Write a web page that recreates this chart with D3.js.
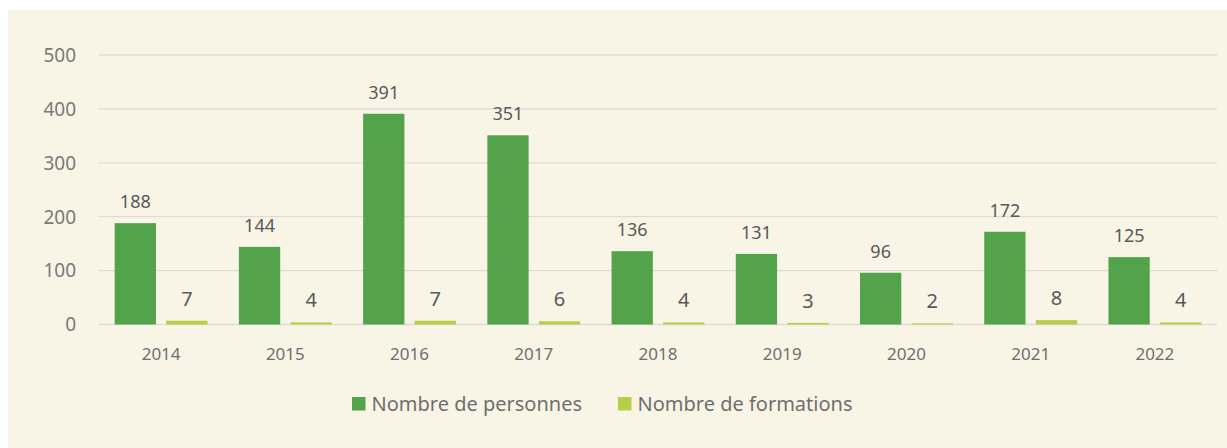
<!DOCTYPE html>
<html>
<head>
<meta charset="utf-8">
<script src="https://cdn.jsdelivr.net/npm/d3@7"></script>
<style>
  body { margin: 0; background: #ffffff; }
  svg { display: block; font-family: "Noto Sans", "Open Sans", sans-serif; }
</style>
</head>
<body>
<svg id="chart" width="1227" height="448"></svg>
<script>
// data
const years = ['2014', '2015', '2016', '2017', '2018', '2019', '2020', '2021', '2022'];
const personnes = [188, 144, 391, 351, 136, 131, 96, 172, 125];
const formations = [7, 4, 7, 6, 4, 3, 2, 8, 4];
const seriesNames = ['Nombre de personnes', 'Nombre de formations'];
const yTicks = [0, 100, 200, 300, 400, 500];

const colors = ['#52a34a', '#b5cf48'];

let svg = d3.select('#chart');

svg.append('rect')
    .attr('x', 8)
    .attr('y', 10)
    .attr('width', 1219)
    .attr('height', 438)
    .attr('fill', '#f8f5e6');

let x0 = d3.scaleBand()
           .domain(years)
           .range([99, 1217]);

let x1 = d3.scaleBand()
           .domain(seriesNames)
           .range([0, x0.bandwidth()])
           .paddingInner(0.2)
           .paddingOuter(0.304);

let y = d3.scaleLinear()
          .domain([0, 500])
          .range([324.5, 55]);

// gridlines
svg.append('g')
    .selectAll('line')
    .data(yTicks)
    .enter()
    .append('line')
    .attr('x1', 99)
    .attr('x2', 1217)
    .attr('y1', d => y(d))
    .attr('y2', d => y(d))
    .attr('stroke', '#dcdcd8')
    .attr('stroke-width', 1.3);

// y tick labels
svg.append('g')
    .selectAll('text')
    .data(yTicks)
    .enter()
    .append('text')
    .attr('x', 76)
    .attr('y', d => y(d))
    .attr('dy', '0.36em')
    .attr('text-anchor', 'end')
    .attr('font-size', 19)
    .attr('fill', '#7a7a7a')
    .text(d => d);

// x labels
svg.append('g')
    .selectAll('text')
    .data(years)
    .enter()
    .append('text')
    .attr('x', d => x0(d) + x0.bandwidth() / 2)
    .attr('y', 360)
    .attr('text-anchor', 'middle')
    .attr('font-size', 17)
    .attr('fill', '#6f6f6f')
    .text(d => d);

let rows = years.map((yr, i) => ({ year: yr, values: [personnes[i], formations[i]] }));

let groups = svg.append('g')
                .selectAll('g')
                .data(rows)
                .enter()
                .append('g')
                .attr('transform', d => `translate(${x0(d.year)},0)`);

groups.selectAll('rect')
    .data(d => d.values.map((v, k) => ({ key: seriesNames[k], k: k, v: v })))
    .enter()
    .append('rect')
    .attr('x', d => x1(d.key))
    .attr('width', x1.bandwidth())
    .attr('y', d => y(d.v))
    .attr('height', d => y(0) - y(d.v))
    .attr('fill', d => colors[d.k]);

groups.selectAll('text')
    .data(d => d.values.map((v, k) => ({ key: seriesNames[k], k: k, v: v })))
    .enter()
    .append('text')
    .attr('x', d => x1(d.key) + x1.bandwidth() / 2)
    .attr('y', d => y(d.v) - 15)
    .attr('text-anchor', 'middle')
    .attr('font-size', d => d.k === 0 ? 18 : 20)
    .attr('fill', '#595959')
    .text(d => d.v);

// legend
let legendX = [352, 618];
let legend = svg.append('g')
                .selectAll('g')
                .data(seriesNames)
                .enter()
                .append('g')
                .attr('transform', (d, i) => `translate(${legendX[i]},397)`);

legend.append('rect')
    .attr('width', 13.5)
    .attr('height', 13.5)
    .attr('fill', (d, i) => colors[i]);

legend.append('text')
    .attr('x', 19.5)
    .attr('y', 14)
    .attr('font-size', 20)
    .attr('fill', '#6f6f6f')
    .text(d => d);
</script>
</body>
</html>
